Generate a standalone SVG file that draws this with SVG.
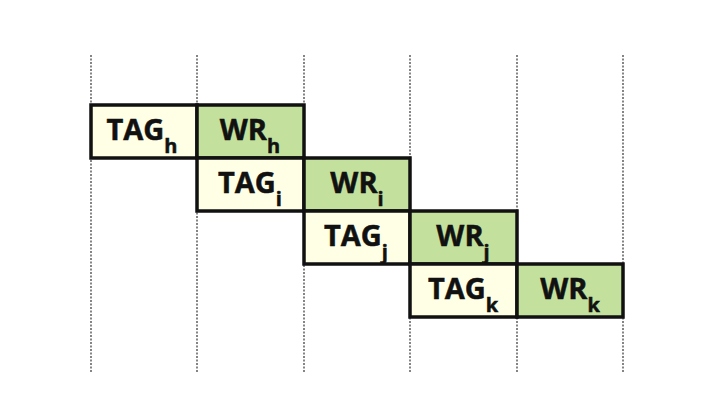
<svg xmlns="http://www.w3.org/2000/svg" width="718" height="412" viewBox="0 0 718 412">
<style>
.grid{stroke:#444;stroke-width:1.3;stroke-dasharray:2 1.5;fill:none}
.tag{fill:#FFFFE6;stroke:#111;stroke-width:3.5}
.wr{fill:#C3E19C;stroke:#111;stroke-width:3.5}
.lbl{font-family:"Open Sans","Liberation Sans",sans-serif;font-weight:bold;font-size:29px;fill:#111;text-anchor:middle;stroke:#111;stroke-width:0.5}
.sub{font-size:20px}
</style>
<rect width="718" height="412" fill="#fff"/>
<g id="grid">
<line class="grid" x1="91" y1="55" x2="91" y2="373"/>
<line class="grid" x1="197" y1="55" x2="197" y2="373"/>
<line class="grid" x1="304" y1="55" x2="304" y2="373"/>
<line class="grid" x1="410" y1="55" x2="410" y2="373"/>
<line class="grid" x1="517" y1="55" x2="517" y2="373"/>
<line class="grid" x1="623" y1="55" x2="623" y2="373"/>
</g>
<g id="tag_h"><rect class="tag" x="91" y="105" width="106" height="53"/><text class="lbl" x="142" y="140">TAG<tspan class="sub" dy="13">h</tspan></text></g>
<g id="wr_h"><rect class="wr" x="197" y="105" width="107" height="53"/><text class="lbl" x="250" y="140">WR<tspan class="sub" dy="13">h</tspan></text></g>
<g id="tag_i"><rect class="tag" x="197" y="158" width="107" height="53"/><text class="lbl" x="250" y="193">TAG<tspan class="sub" dy="13">i</tspan></text></g>
<g id="wr_i"><rect class="wr" x="304" y="158" width="106" height="53"/><text class="lbl" x="357" y="193">WR<tspan class="sub" dy="13">i</tspan></text></g>
<g id="tag_j"><rect class="tag" x="304" y="211" width="106" height="53"/><text class="lbl" x="356" y="246">TAG<tspan class="sub" dy="13">j</tspan></text></g>
<g id="wr_j"><rect class="wr" x="410" y="211" width="107" height="53"/><text class="lbl" x="463" y="246">WR<tspan class="sub" dy="13">j</tspan></text></g>
<g id="tag_k"><rect class="tag" x="410" y="264" width="107" height="53"/><text class="lbl" x="463" y="299">TAG<tspan class="sub" dy="13">k</tspan></text></g>
<g id="wr_k"><rect class="wr" x="517" y="264" width="106" height="53"/><text class="lbl" x="570" y="299">WR<tspan class="sub" dy="13">k</tspan></text></g>
</svg>
